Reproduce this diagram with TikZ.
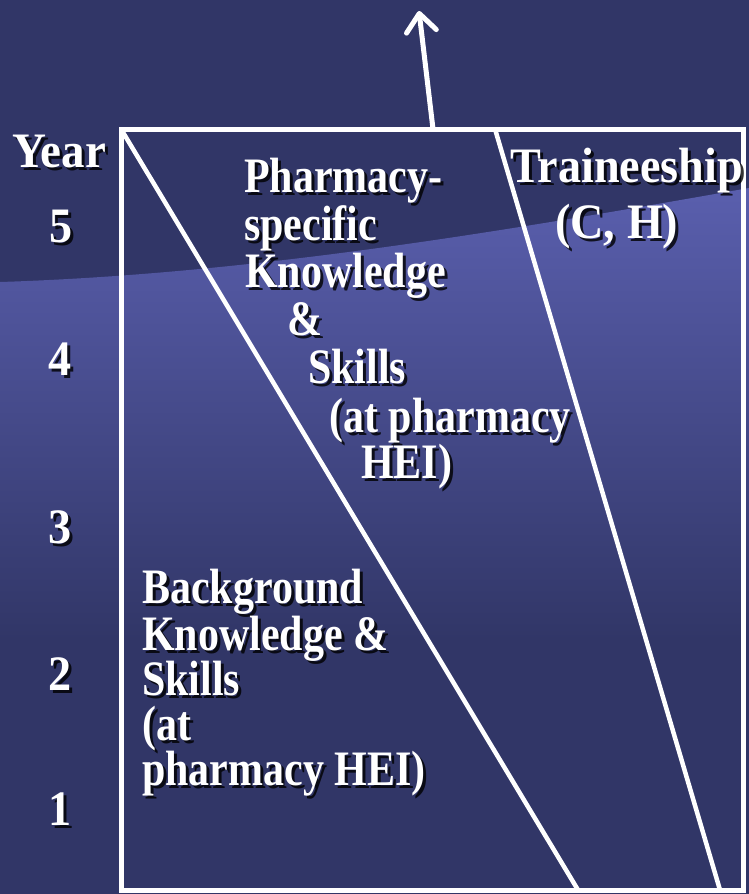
\documentclass[tikz,border=0pt]{standalone}
\usepackage{fontspec}
\usepackage{graphicx}
\setmainfont{Liberation Serif}
\usetikzlibrary{arrows.meta}
\definecolor{navy}{RGB}{49,54,103}
\definecolor{bandlight}{RGB}{90,95,174}
% [anchor]{name}{position}{horizontal scale}{text}
\newcommand\shlabel[5][base west]{%
  \node[lblshadow, anchor=#1, xshift=3pt, yshift=-3pt] (#2s) at (#3) {\scalebox{#4}[1.18]{#5}};
  \node[lbl, anchor=#1] (#2) at (#3) {\scalebox{#4}[1.18]{#5}};}
\begin{document}
\begin{tikzpicture}[x=1pt,y=-1pt,
  frame/.style={draw=white, line width=5pt, inner sep=0pt, outer sep=0pt},
  divider/.style={draw=white, line width=4.5pt},
  lbl/.style={text=white, font=\fontsize{42}{47}\selectfont\bfseries, inner sep=0pt},
  lblshadow/.style={lbl, text=black, text opacity=0.8},
]
\useasboundingbox (0,0) rectangle (749,894);
\fill[navy] (0,0) rectangle (749,894);
\begin{scope}
  \clip (0,282) .. controls (250,274) and (500,232) .. (749,188) -- (749,894) -- (0,894) -- cycle;
  \shade[top color=bandlight, bottom color=navy] (0,185) rectangle (749,640);
\end{scope}

% frame and dividers
\node[frame, minimum width=622pt, minimum height=761pt, anchor=north west] (box) at (121,129) {};
\coordinate (d1bot) at (578,890);
\coordinate (d2top) at (495,129);
\coordinate (d2bot) at (720,890);
\draw[divider] (box.north west) -- (d1bot);
\draw[divider] (d2top) -- (d2bot);

% arrow
\coordinate (arrbase) at (433,129);
\coordinate (arrtip) at (419,11);
\draw[white, line width=5pt, -{Straight Barb[length=18pt,width=30pt,round]}] (arrbase) -- (arrtip);

% year column
\shlabel{year}{12,167}{1.12}{Year}
\shlabel[base]{y5}{61,242}{1.1}{5}
\shlabel[base]{y4}{60,375}{1.1}{4}
\shlabel[base]{y3}{60,543}{1.1}{3}
\shlabel[base]{y2}{60,690}{1.1}{2}
\shlabel[base]{y1}{60,825}{1.1}{1}

% pharmacy-specific
\shlabel{p1}{244,192}{1}{Pharmacy-}
\shlabel{p2}{244,240}{1}{specific}
\shlabel{p3}{245,287}{1}{Knowledge}
\shlabel{p4}{287,335}{1}{\&}
\shlabel{p5}{308,383}{1}{Skills}
\shlabel{p6}{329,432}{1}{(at pharmacy}
\shlabel{p7}{361,478}{1}{HEI)}

% traineeship
\shlabel{t1}{510,182}{1.1}{Traineeship}
\shlabel{t2}{555,238}{1.1}{(C, H)}

% background
\shlabel{b1}{142,603}{1}{Background}
\shlabel{b2}{142,650}{1}{Knowledge \&}
\shlabel{b3}{142,695}{1}{Skills}
\shlabel{b4}{142,740}{1}{(at}
\shlabel{b5}{142,785}{1}{pharmacy HEI)}
\end{tikzpicture}
\end{document}
